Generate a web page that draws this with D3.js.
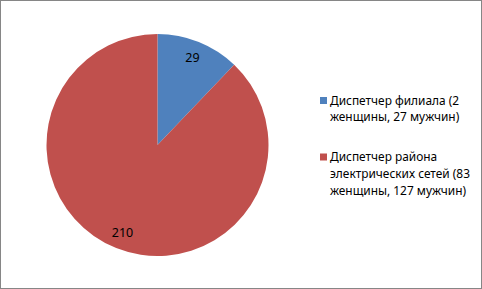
<!DOCTYPE html>
<html>
<head>
<meta charset="utf-8">
<style>
  body { margin: 0; background: #fff; }
  svg text { font-family: "Noto Sans", "DejaVu Sans", sans-serif; fill: #000; }
</style>
</head>
<body>
<div id="chart"></div>
<script src="https://cdn.jsdelivr.net/npm/d3@7/dist/d3.min.js"></script>
<script>
// data
var categories = ["Диспетчер филиала (2 женщины, 27 мужчин)",
                  "Диспетчер района электрических сетей (83 женщины, 127 мужчин)"];
var values = [29, 210];
var legendLines = [["Диспетчер филиала (2", "женщины, 27 мужчин)"],
                   ["Диспетчер района", "электрических сетей (83", "женщины, 127 мужчин)"]];
var colors = ["#4F81BD", "#C0504D"];

var W = 482, H = 289;
var svg = d3.select("#chart").append("svg").attr("width", W).attr("height", H);

svg.append("rect").attr("x", 0.5).attr("y", 0.5).attr("width", W - 1).attr("height", H - 1)
  .attr("fill", "#fff").attr("stroke", "#868686");

var cx = 157.5, cy = 145, R = 111;
var color = d3.scaleOrdinal().domain(categories).range(colors);

var pie = d3.pie().sort(null).value(function(d){ return d; });
var arcs = pie(values);
var arc = d3.arc().innerRadius(0).outerRadius(R);
var labelArc = d3.arc().innerRadius(94).outerRadius(94);

var g = svg.append("g").attr("transform", "translate(" + cx + "," + cy + ")");
g.selectAll(".slice")
  .data(arcs)
  .enter().append("path")
  .attr("class", "slice")
  .attr("d", arc)
  .attr("fill", function(d, i){ return color(categories[i]); });

g.selectAll(".lbl")
  .data(arcs)
  .enter().append("text")
  .attr("class", "lbl")
  .attr("x", function(d){ return labelArc.centroid(d)[0]; })
  .attr("y", function(d){ return labelArc.centroid(d)[1]; })
  .attr("dy", "0.35em")
  .attr("text-anchor", "middle")
  .style("font-size", "12.5px")
  .text(function(d){ return d.value; });

// legend
var legY = [100.5, 157];
var lg = svg.selectAll(".leg")
  .data(legendLines)
  .enter().append("g")
  .attr("class", "leg")
  .attr("transform", function(d, i){ return "translate(320," + legY[i] + ")"; });

lg.append("rect")
  .attr("x", 0).attr("y", -3.5).attr("width", 7).attr("height", 7)
  .attr("fill", function(d, i){ return colors[i]; });

lg.each(function(lines){
  var t = d3.select(this).append("text")
    .attr("x", 10).attr("y", 0)
    .style("font-size", "11.9px");
  lines.forEach(function(s, j){
    t.append("tspan").attr("x", 10).attr("y", j * 16.8).attr("dy", "0.35em").text(s);
  });
});
</script>
</body>
</html>
